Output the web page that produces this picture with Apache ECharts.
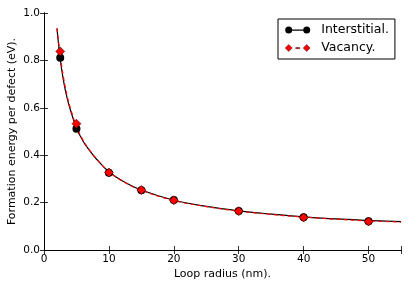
<!DOCTYPE html>
<html>
<head>
<meta charset="utf-8">
<script src="https://cdn.jsdelivr.net/npm/echarts@6/dist/echarts.min.js"></script>
<style>html,body{margin:0;padding:0;background:#fff;}#c{width:409px;height:288px;}</style>
</head>
<body>
<div id="c"></div>
<script>
// Data
const radii = [2.5, 5, 10, 15, 20, 30, 40, 50];
const interstitial = [0.811, 0.512, 0.326, 0.252, 0.211, 0.165, 0.138, 0.121];
const vacancy = [0.838, 0.533, 0.327, 0.253, 0.210, 0.164, 0.137, 0.120];
const fitX = [2, 2.5, 3, 3.5, 4, 5, 6, 7, 8, 10, 12, 15, 20, 25, 30, 35, 40, 45, 50, 55];
const fitInterstitial = [0.935, 0.805, 0.715, 0.648, 0.597, 0.515, 0.460, 0.420, 0.386, 0.330, 0.293, 0.253, 0.210, 0.184, 0.165, 0.151, 0.140, 0.131, 0.125, 0.120];
const fitVacancy = [0.935, 0.822, 0.728, 0.658, 0.604, 0.522, 0.464, 0.422, 0.387, 0.330, 0.292, 0.252, 0.209, 0.183, 0.164, 0.150, 0.139, 0.130, 0.123, 0.118];
const xTicks = [0, 10, 20, 30, 40, 50];
const yTicks = [0.0, 0.2, 0.4, 0.6, 0.8, 1.0];

const pairs = (xs, ys) => xs.map((x, i) => [x, ys[i]]);
const font = 'DejaVu Sans';
const iconInter = 'path://M0,3.5A3.5,3.5 0 1,0 7,3.5A3.5,3.5 0 1,0 0,3.5Z M7,3 L18,3 L18,4.2 L7,4.2Z M18,3.5A3.5,3.5 0 1,0 25,3.5A3.5,3.5 0 1,0 18,3.5Z';
const iconVac = 'path://M0,3.5L3.5,0L7,3.5L3.5,7Z M10.5,3 L14.5,3 L14.5,4.2 L10.5,4.2Z M18,3.5L21.5,0L25,3.5L21.5,7Z';

const chart = echarts.init(document.getElementById('c'), null, {renderer: 'canvas'});
const axisCommon = {
  type: 'value',
  axisLine: {show: true, lineStyle: {color: '#000', width: 1}},
  axisTick: {show: true, inside: true, length: 4, lineStyle: {color: '#000', width: 0.8}},
  splitLine: {show: false}
};
chart.setOption({
  animation: false,
  backgroundColor: '#fff',
  grid: {left: 44, right: 8, top: 13, bottom: 38, containLabel: false, outerBoundsMode: 'none'},
  xAxis: [
    Object.assign({}, axisCommon, {
      min: 0, max: 55, interval: 10, position: 'bottom',
      name: 'Loop radius (nm).', nameLocation: 'middle', nameGap: 19, nameMoveOverlap: false,
      nameTextStyle: {fontFamily: font, fontSize: 11, color: '#000'},
      axisLabel: {fontFamily: font, fontSize: 10.5, color: '#000', margin: 4,
        formatter: v => xTicks.includes(v) ? String(v) : ''}
    }),
    Object.assign({}, axisCommon, {
      min: 0, max: 55, interval: 10, position: 'top', axisLabel: {show: false}
    })
  ],
  yAxis: [
    Object.assign({}, axisCommon, {
      min: 0, max: 1, interval: 0.2, position: 'left',
      name: 'Formation energy per defect (eV).', nameLocation: 'middle', nameGap: 26, nameMoveOverlap: false,
      nameTextStyle: {fontFamily: font, fontSize: 11, color: '#000'},
      axisLabel: {fontFamily: font, fontSize: 10.5, color: '#000', margin: 4,
        formatter: v => yTicks.some(t => Math.abs(t - v) < 1e-9) ? v.toFixed(1) : ''}
    }),
    Object.assign({}, axisCommon, {
      min: 0, max: 1, interval: 0.2, position: 'right', axisLabel: {show: false}
    })
  ],
  legend: {
    orient: 'vertical', left: 278, top: 19,
    padding: [4, 6, 4, 7],
    itemWidth: 25, itemHeight: 7, itemGap: 4,
    borderColor: '#000', borderWidth: 1, backgroundColor: '#fff',
    textStyle: {fontFamily: font, fontSize: 12.5, color: '#000', lineHeight: 14, padding: [0, 0, 0, 6]},
    data: [
      {name: 'Interstitial.', icon: iconInter, itemStyle: {color: '#000'}},
      {name: 'Vacancy.', icon: iconVac, itemStyle: {color: '#ff0000', borderColor: '#000', borderWidth: 0.4}}
    ]
  },
  series: [
    {type: 'line', name: 'fitI', data: pairs(fitX, fitInterstitial), showSymbol: false, smooth: 0.4,
      lineStyle: {color: '#000', width: 1.2}, z: 2, silent: true},
    {type: 'line', name: 'fitV', data: pairs(fitX, fitVacancy), showSymbol: false, smooth: 0.4,
      lineStyle: {color: '#ff0000', width: 1.2, type: [4, 3]}, z: 3, silent: true},
    {type: 'scatter', name: 'Interstitial.', data: pairs(radii, interstitial), symbol: 'circle', symbolSize: 8,
      itemStyle: {color: '#000', opacity: 1}, z: 4},
    {type: 'scatter', name: 'Vacancy.', data: pairs(radii, vacancy), symbol: 'diamond', symbolSize: 9,
      itemStyle: {color: '#ff0000', borderColor: '#000', borderWidth: 0.5, opacity: 1}, z: 5}
  ]
});
</script>
</body>
</html>
